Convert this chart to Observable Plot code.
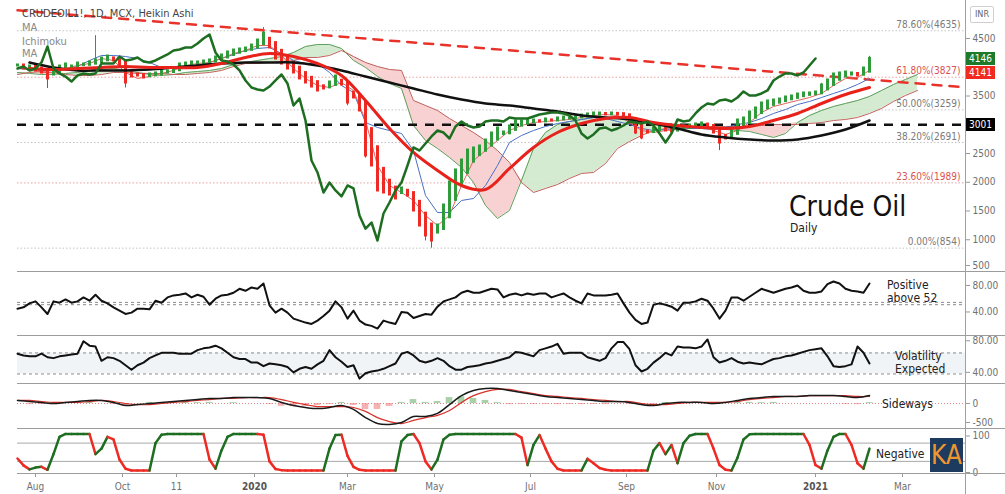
<!DOCTYPE html>
<html>
<head>
<meta charset="utf-8">
<script src="https://cdn.jsdelivr.net/npm/d3@7"></script>
<script src="https://cdn.jsdelivr.net/npm/@observablehq/plot@0.6"></script>
<style>
  html, body { margin: 0; padding: 0; background: #fff; }
  #chart { position: relative; width: 1005px; height: 494px; overflow: hidden; background: #fff;
    font-family: "DejaVu Sans Condensed", "DejaVu Sans", sans-serif; font-stretch: condensed; }
  #chart > svg { position: absolute; left: 0; }
  .ov { position: absolute; white-space: nowrap; line-height: 1; }
  .sep { position: absolute; left: 17px; width: 988px; height: 1px; background: #9c9c9c; }
</style>
</head>
<body>
<div id="chart"></div>
<script>
// ---------------- DATA ----------------
// x = session sample index (one sample ~ 3 trading days)
const xTickIdx    = [3, 17.5, 26.5, 39.5, 55, 69.5, 85.5, 101.5, 116.5, 133, 147.5];
const xTickLabels = ["Aug", "Oct", "11", "2020", "Mar", "May", "Jul", "Sep", "Nov", "2021", "Mar"];

// Heikin Ashi closes (INR)
const candleClose = [4031,3978,4013,3944,3909,3805,3944,4013,4048,4013,
  4065,4048,4083,4118,4152,4187,4118,4031,3735,3839,
  3857,3822,3874,3892,3944,3926,3978,4048,4065,4083,
  4083,4100,4118,4170,4205,4257,4291,4309,4326,4378,
  4465,4587,4344,4152,4065,3978,3909,3805,3735,3665,
  3596,3631,3735,3839,3700,3387,3474,3248,2466,2292,
  1857,1822,1787,1718,1892,1770,1509,1248,1075,987,
  1248,1596,1996,2205,2378,2552,2587,2622,2726,2848,
  2935,2865,2970,3057,3057,3074,3074,3057,3092,3074,
  3109,3126,3109,3144,3161,3179,3196,3196,3179,3196,
  3179,3144,3039,2865,2779,2865,2935,2953,2900,2883,
  2935,2970,2987,3005,3022,2953,2865,2692,2761,2900,
  3074,3109,3213,3283,3370,3405,3422,3439,3474,3492,
  3526,3544,3544,3561,3683,3770,3874,3892,3909,3892,
  3857,3978,4146];
// notable wicks
const wickIdx  = [5, 13, 18, 41, 55, 58, 68, 69, 103, 104, 117, 134, 142];
const wickLow  = [3630, 4080, 3640, 4420, 3330, 2420, 980, 854, 2830, 2740, 2550, 3560, 3990];
const wickHigh = [3950, 4550, 4040, 4690, 3660, 3250, 1250, 1110, 3040, 2900, 2800, 3720, 4190];

// Ichimoku lagging span (thick green)
const chikou = [3978,4013,3944,3978,4083,4361,3978,3892,3839,3752,
  3857,3892,3874,3892,4065,4065,4065,4187,4118,4135,
  4170,4100,4083,4118,4170,4222,4291,4309,4344,4344,
  4413,4500,4570,4257,4118,4100,4048,3944,3770,3648,
  3613,3596,3665,3770,3874,3718,3335,3457,3074,2378,
  2170,1822,1996,1857,1753,1944,1892,1422,1193,1300,
  987,1457,1648,1857,1996,2292,2605,2552,2674,2796,
  2900,2865,2761,2970,3057,2987,2953,2970,3057,3074,
  3074,3057,3126,3109,3109,3109,3144,3179,3196,3213,
  3213,3196,3161,3074,2848,2761,2831,2935,2953,2900,
  2935,2987,3057,3039,3022,3057,2987,2848,2692,2848,
  3092,3057,3074,3196,3300,3370,3352,3422,3439,3405,
  3474,3579,3509,3509,3544,3596,3770,3839,3892,3892,
  3857,3909,4031,4152];

// Ichimoku lines, sampled every 2 index units
const ichiStep = 2;
const tenkan = [3978,3978,3909,3909,3978,4031,4065,4152,4118,3909,
  3805,3839,3892,3944,4031,4065,4083,4152,4239,4291,
  4378,4378,4205,3978,3805,3683,3648,3735,3596,3074,
  2292,1944,1822,1683,1422,1248,1422,1944,2378,2552,
  2726,2900,2987,3039,3057,3074,3092,3126,3161,3179,
  3161,3039,2900,2865,2900,2918,2953,2970,2900,2831,
  2900,3039,3213,3318,3370,3422,3474,3544,3683,3805,
  3822,3944];
const kijun = [3978,3961,3944,3944,3978,4013,4118,4205,4205,4187,
  4152,4083,3996,3996,3996,4013,4083,4152,4222,4291,
  4326,4344,4239,4118,4065,4065,3909,3683,3561,3039,
  2953,2900,2848,2552,1770,1474,1474,1683,1718,1944,
  2292,2692,2813,2900,2970,3022,3057,3092,3126,3109,
  3057,3005,2935,2900,2918,2935,2935,2935,2918,2953,
  3005,3039,3109,3196,3265,3352,3405,3474,3544,3613,
  3700,3805];
const spanA = [3909,3892,3874,3874,3892,3909,3944,3961,3978,3944,
  3909,3874,3857,3874,3909,3926,3944,3978,4048,4083,
  4118,4152,4187,4257,4361,4396,4396,4326,4118,3996,
  3839,3718,3631,2987,2726,2587,2431,2257,1996,1596,
  1370,1509,2031,2587,2865,3005,3057,3092,3126,3126,
  3109,3092,3057,3022,3005,2987,2970,2953,2935,2918,
  2900,2883,2831,2779,2848,3039,3161,3248,3318,3370,
  3422,3492,3596,3700,3787,3874];
const spanB = [3874,3909,3926,3909,3874,3857,3857,3874,3909,3909,
  3892,3892,3892,3874,3874,3892,3909,3944,4013,4065,
  4065,4083,4100,4118,4170,4170,4205,4291,4187,4083,
  4013,3961,3944,3422,3335,3248,3109,2987,2865,2726,
  2552,2344,1996,1822,1892,1961,2066,2153,2170,2326,
  2587,2709,2813,2900,2935,2953,2953,2953,2970,2970,
  2970,2970,2987,3005,3005,3005,3022,3039,3074,3092,
  3126,3196,3283,3405,3509,3596];

// moving averages, sampled every 4 index units from index 2
const maStart = 2, maStep = 4;
const maRed = [3978,3961,3978,3996,4013,3996,3996,3996,4065,4170,
  4239,4187,4065,3857,3422,2935,2518,2205,1944,1874,
  2240,2605,2865,3022,3109,3126,3039,2987,2953,2935,
  2970,3074,3196,3370,3526,3648];
const maBlack = [4083,3996,3944,3944,3944,3961,3996,4031,4065,4083,
  4083,4083,4031,3944,3839,3735,3631,3526,3439,3370,
  3335,3283,3231,3161,3126,3092,3022,2935,2831,2779,
  2744,2726,2744,2813,2918,3074];

// trend line and levels
const trendIdx = [0, 158];
const trendVal = [4990, 3650];
const supportLevel = [3001];
const fibValues = [4635, 3827, 3259, 2691, 1989, 854];
const fibLabels = ["78.60%(4635)", "61.80%(3827)", "50.00%(3259)", "38.20%(2691)", "23.60%(1989)", "0.00%(854)"];
const fibRed    = [false, true, false, false, true, false];
// 3000 and 4000 are hidden behind the price tags in the reference; 500 sits at the panel edge
const mainTicks = [1000, 1500, 2000, 2500, 3500, 4500];
const mainEdgeTicks = [500];

// RSI
const rsi = [45,47,53,56,47,37,56,54,59,54,
  56,62,57,66,57,53,47,42,37,39,
  45,45,44,57,54,62,65,66,68,62,
  66,63,51,60,65,66,69,75,72,77,
  75,83,50,39,45,39,30,27,24,22,
  27,34,42,56,47,30,42,27,21,19,
  15,27,24,22,40,39,31,34,37,36,
  48,56,59,62,69,72,69,69,72,75,
  74,62,66,68,65,68,66,68,68,62,
  65,68,62,57,53,68,65,65,65,66,
  68,53,39,28,22,24,51,53,51,48,
  42,54,54,56,60,57,45,30,42,62,
  62,57,63,69,75,72,69,72,75,77,
  80,72,69,69,71,82,86,83,75,72,
  71,69,83];
const rsiLevels = [54.5, 51];
const rsiTicks = [40, 80];

// Choppiness index
const chop = [61,59,58,58,61,57,56,58,59,60,
  61,75,70,69,53,57,56,53,48,43,
  48,51,56,59,62,62,62,61,61,61,
  65,67,68,70,67,62,57,55,55,51,
  51,47,50,49,48,46,40,44,46,44,
  49,53,65,57,52,46,48,33,39,41,
  42,44,47,50,61,63,59,53,51,53,
  56,53,47,43,43,46,47,48,50,51,
  53,55,57,63,62,60,58,65,67,69,
  72,61,62,62,62,57,55,53,56,67,
  74,74,66,48,41,44,51,56,62,59,
  69,68,68,67,69,77,57,51,53,56,
  52,50,51,50,49,52,55,56,58,59,
  61,63,65,66,67,58,47,46,47,49,
  69,62,50];
const chopLevels = [38.2, 61.8];
const chopTicks = [40];
const chopEdgeTicks = [80];

// MACD (sampled every 2 index units)
const macdStep = 2;
const macdLine = [70,45,25,0,25,45,70,70,25,-45,
  -25,0,25,45,70,90,115,115,135,135,
  135,115,25,-45,-90,-115,-90,-45,-135,-320,
  -455,-475,-430,-295,-295,-225,-25,180,295,340,
  340,295,250,205,160,135,115,90,70,45,
  45,25,-25,-45,0,25,25,25,0,25,
  70,115,135,160,160,160,180,180,180,160,
  135,180];
const macdSignal = [70,70,45,25,25,25,45,70,45,0,
  -25,-25,0,25,45,70,90,115,115,135,
  135,135,90,25,-25,-70,-70,-70,-90,-180,
  -320,-410,-455,-385,-320,-270,-160,25,180,270,
  320,320,270,225,180,160,135,115,90,70,
  45,45,0,-25,-25,0,25,25,25,25,
  45,90,115,135,160,160,180,180,180,180,
  160,160];
const macdTicks = [0];
const macdEdgeTicks = [-500];

// Schaff Trend Cycle
const stc = [33,14,3,8,10,2,45,92,100,100,
  100,100,100,45,60,92,85,30,5,0,
  0,0,0,75,98,100,100,100,100,100,
  100,100,30,5,55,92,100,100,100,100,
  100,98,25,4,1,0,0,0,0,0,
  0,0,60,97,98,40,10,2,0,0,
  0,0,0,0,80,97,100,75,25,3,
  30,85,98,100,100,100,100,100,100,100,
  100,100,100,100,90,15,70,97,60,25,
  5,0,0,0,0,32,20,7,2,0,
  0,0,0,0,0,0,55,75,45,70,
  20,75,95,100,100,100,60,15,2,0,
  35,85,99,100,100,100,100,100,100,100,
  100,100,70,15,5,55,92,100,100,70,
  20,5,60];
const stcLevels = [25, 75];
const stcTicks = [0, 100];

const priceTags = [
  {v: 4146, text: "4146", bg: "#1d7a2a", shift: 0},
  {v: 4141, text: "4141", bg: "#f2291e", shift: 14},
  {v: 3001, text: "3001", bg: "#000000", shift: 0}
];

// ---------------- BUILD ----------------
const FONT = '"DejaVu Sans Condensed", "DejaVu Sans", sans-serif';
const GREEN = "#2f9b3a", RED = "#ee2a24", DKGREEN = "#1e6e22";
const xDomain = [0, 158];
const chart = document.getElementById("chart");

const haOpen = [];
candleClose.forEach((c, i) => haOpen.push(i === 0 ? c : (haOpen[i - 1] + candleClose[i - 1]) / 2));
const candles = candleClose.map((c, i) => ({i, c, o: haOpen[i], up: c >= haOpen[i]}));
const wicks = wickIdx.map((i, k) => ({i, lo: wickLow[k], hi: wickHigh[k], up: candles[i].up}));
const chik = chikou.map((v, i) => ({i, v}));
const cloud = spanA.map((a, k) => ({i: k * ichiStep, a, b: spanB[k], top: Math.max(a, spanB[k])}));
const tk = tenkan.map((v, k) => ({i: k * ichiStep, v}));
const kj = kijun.map((v, k) => ({i: k * ichiStep, v}));
const mr = maRed.map((v, k) => ({i: maStart + k * maStep, v}));
const mb = maBlack.map((v, k) => ({i: maStart + k * maStep, v}));
const trend = trendIdx.map((i, k) => ({i, v: trendVal[k]}));
const fibs = fibValues.map((v, k) => ({v, label: fibLabels[k], red: fibRed[k]}));

const common = {
  width: 1005, marginLeft: 17, marginRight: 40, marginTop: 0,
  style: {fontFamily: FONT, fontSize: "10px", background: "#fff", fontStretch: "condensed"}
};
const axisOpts = {anchor: "right", tickSize: 4, tickPadding: 3, label: null, stroke: "#999", fill: "#707070", fontSize: 10};

function place(svg, top) {
  svg.style.position = "absolute";
  svg.style.top = top + "px";
  svg.style.left = "0px";
  chart.appendChild(svg);
  return svg;
}

// main price panel
const main = Plot.plot({
  ...common, height: 271, marginBottom: 0,
  x: {domain: xDomain, axis: null, label: null},
  y: {domain: [448, 5161], label: null},
  marks: [
    Plot.ruleY(fibs, {y: "v", stroke: d => d.red ? "#e9a0a0" : "#c4c4c4", strokeWidth: 1, strokeDasharray: "1.5,2"}),
    Plot.areaY(cloud, {x: "i", y1: "b", y2: "top", fill: "#cfe9cd", fillOpacity: 0.9}),
    Plot.areaY(cloud, {x: "i", y1: "a", y2: "top", fill: "#f7cdcd", fillOpacity: 0.9}),
    Plot.line(cloud, {x: "i", y: "a", stroke: "#5f9e5c", strokeWidth: 1}),
    Plot.line(cloud, {x: "i", y: "b", stroke: "#c0625c", strokeWidth: 1}),
    Plot.ruleY(supportLevel, {stroke: "#111", strokeWidth: 2.5, strokeDasharray: "9,8"}),
    Plot.line(trend, {x: "i", y: "v", stroke: "#e8322a", strokeWidth: 2.5, strokeDasharray: "9,8"}),
    Plot.line(kj, {x: "i", y: "v", stroke: "#4a70c6", strokeWidth: 1}),
    Plot.line(tk, {x: "i", y: "v", stroke: "#e0645e", strokeWidth: 1}),
    Plot.ruleX(wicks, {x: "i", y1: "lo", y2: "hi", stroke: d => d.up ? GREEN : RED, strokeWidth: 1}),
    Plot.ruleX(candles, {x: "i", y1: "o", y2: "c", stroke: d => d.up ? GREEN : RED, strokeWidth: 3, strokeLinecap: "square"}),
    Plot.line(mb, {x: "i", y: "v", stroke: "#111", strokeWidth: 2.5, curve: "catmull-rom"}),
    Plot.line(mr, {x: "i", y: "v", stroke: "#e8221b", strokeWidth: 3, curve: "catmull-rom"}),
    Plot.line(chik, {x: "i", y: "v", stroke: DKGREEN, strokeWidth: 2.5, strokeLinejoin: "round"}),
    Plot.text(fibs, {y: "v", text: "label", frameAnchor: "right", textAnchor: "end", dx: -5, dy: -6,
      fill: d => d.red ? "#d9534f" : "#7a7a7a", fontSize: 10}),
    Plot.axisY(mainTicks, {...axisOpts, tickFormat: d3.format("d")}),
    Plot.axisY(mainEdgeTicks, {...axisOpts, dy: -3, tickFormat: d3.format("d")})
  ]
});
place(main, 0);

// RSI
const rsiData = rsi.map((v, i) => ({i, v}));
place(Plot.plot({
  ...common, height: 63, marginBottom: 0,
  x: {domain: xDomain, axis: null, label: null},
  y: {domain: [4.5, 99.6], label: null},
  marks: [
    Plot.ruleY(rsiLevels, {stroke: "#8a8a8a", strokeDasharray: "3,3"}),
    Plot.line(rsiData, {x: "i", y: "v", stroke: "#111", strokeWidth: 2}),
    Plot.axisY(rsiTicks, {...axisOpts, tickFormat: d3.format(".2f")})
  ]
}), 272);

// CHOP
const chopData = chop.map((v, i) => ({i, v}));
place(Plot.plot({
  ...common, height: 47, marginBottom: 0,
  x: {domain: xDomain, axis: null, label: null},
  y: {domain: [27.5, 80.3], label: null},
  marks: [
    Plot.rect([chopLevels], {x1: () => xDomain[0], x2: () => xDomain[1], y1: d => d[0], y2: d => d[1], fill: "#f1f4f7"}),
    Plot.ruleY(chopLevels, {stroke: "#8a8a8a", strokeDasharray: "3,3"}),
    Plot.line(chopData, {x: "i", y: "v", stroke: "#111", strokeWidth: 2}),
    Plot.axisY(chopTicks, {...axisOpts, tickFormat: d3.format(".2f")}),
    Plot.axisY(chopEdgeTicks, {...axisOpts, dy: 4, tickFormat: d3.format(".2f")})
  ]
}), 336);

// MACD
const macdData = macdLine.map((m, k) => ({i: k * macdStep, m, s: macdSignal[k], h: m - macdSignal[k]}));
const macdFmt = d => d === 0 ? "0" : String(d).replace("\u2212", "-");
place(Plot.plot({
  ...common, height: 44, marginBottom: 0,
  x: {domain: xDomain, axis: null, label: null},
  y: {domain: [-568, 432], label: null},
  marks: [
    Plot.ruleY([0], {stroke: "#d88", strokeDasharray: "1,2"}),
    Plot.rect(macdData, {x1: d => d.i - 0.55, x2: d => d.i + 0.55, y1: () => 0, y2: "h",
      fill: d => d.h >= 0 ? "#6fb36f" : "#ee7f7f", fillOpacity: 0.6}),
    Plot.line(macdData, {x: "i", y: "s", stroke: "#d9302a", strokeWidth: 1.2, curve: "catmull-rom"}),
    Plot.line(macdData, {x: "i", y: "m", stroke: "#1a1a1a", strokeWidth: 1.5, curve: "catmull-rom"}),
    Plot.axisY(macdTicks, {...axisOpts, tickFormat: macdFmt}),
    Plot.axisY(macdEdgeTicks, {...axisOpts, dy: -3, tickFormat: macdFmt})
  ]
}), 384);

// STC
const segs = [];
let rising = false;
for (let i = 0; i < stc.length - 1; i++) {
  if (stc[i + 1] > stc[i]) rising = true;
  else if (stc[i + 1] < stc[i]) rising = false;
  segs.push({x1: i, y1: stc[i], x2: i + 1, y2: stc[i + 1], up: rising});
}
const labelOf = new Map(xTickIdx.map((t, k) => [t, xTickLabels[k]]));
const stcPlot = place(Plot.plot({
  ...common, height: 65, marginBottom: 21,
  x: {domain: xDomain, label: null},
  y: {domain: [-8.2, 112.3], label: null},
  marks: [
    Plot.ruleY(stcLevels, {stroke: "#a8a8a8", strokeWidth: 1}),
    Plot.link(segs, {x1: "x1", y1: "y1", x2: "x2", y2: "y2", stroke: d => d.up ? DKGREEN : RED,
      strokeWidth: 2.5, strokeLinecap: "round"}),
    Plot.axisY(stcTicks, {...axisOpts, dy: 2, tickFormat: d3.format("d")}),
    Plot.axisX(xTickIdx, {anchor: "bottom", tickSize: 4, tickPadding: 5, label: null,
      tickFormat: d => labelOf.get(d), stroke: "#999", fill: "#707070", fontSize: 10})
  ]
}), 429);
d3.select(stcPlot).selectAll("text").filter(function () { return /^20\d\d$/.test(this.textContent); })
  .attr("font-weight", "bold").attr("fill", "#555");

// ---------------- OVERLAYS ----------------
function ov(html, css) {
  const d = document.createElement("div");
  d.className = "ov";
  d.innerHTML = html;
  Object.assign(d.style, css);
  chart.appendChild(d);
  return d;
}
function line(css, cls) {
  const d = document.createElement("div");
  if (cls) d.className = cls;
  Object.assign(d.style, css);
  chart.appendChild(d);
}
[271, 335, 383, 428, 473].forEach(t => line({top: t + "px"}, "sep"));
line({position: "absolute", left: "965px", top: "0px", width: "1px", height: "494px", background: "#a0a0a0"});

ov("CRUDEOIL1!, 1D, MCX, Heikin Ashi", {left: "22px", top: "8px", fontSize: "11px", color: "#444"});
ov("MA", {left: "22px", top: "22px", fontSize: "11px", color: "#888"});
ov("Ichimoku", {left: "22px", top: "36px", fontSize: "11px", color: "#888"});
ov("MA", {left: "22px", top: "48px", fontSize: "11px", color: "#888"});

ov("Crude Oil", {left: "789px", top: "193px", fontSize: "28px", color: "#111"});
ov("Daily", {left: "790px", top: "222px", fontSize: "12px", color: "#222"});

ov("Positive<br>above 52", {left: "887px", top: "279px", fontSize: "12px", lineHeight: "13px", color: "#222"});
ov("Volatility<br>Expected", {left: "895px", top: "350px", fontSize: "12px", lineHeight: "13px", color: "#222"});
ov("Sideways", {left: "882px", top: "398px", fontSize: "12px", color: "#222"});
ov("Negative", {left: "876px", top: "448px", fontSize: "12px", color: "#222"});

ov("KA", {left: "930px", top: "438px", width: "33px", height: "34px", background: "#1d3a5f", color: "#f0962e",
  fontSize: "26px", lineHeight: "34px", textAlign: "center"});
ov("INR", {left: "970px", top: "6px", width: "22px", height: "15px", border: "1px solid #cfcfcf", borderRadius: "2px",
  fontSize: "9px", lineHeight: "15px", textAlign: "center", color: "#666", background: "#fff"});

const yMain = main.scale("y");
priceTags.forEach(t => {
  const cy = yMain.apply(t.v) + t.shift;
  ov(t.text, {left: "966px", top: (cy - 6.5) + "px", width: "29px", height: "13px", background: t.bg, color: "#fff",
    fontSize: "10px", lineHeight: "13px", textAlign: "center"});
});
</script>
</body>
</html>
